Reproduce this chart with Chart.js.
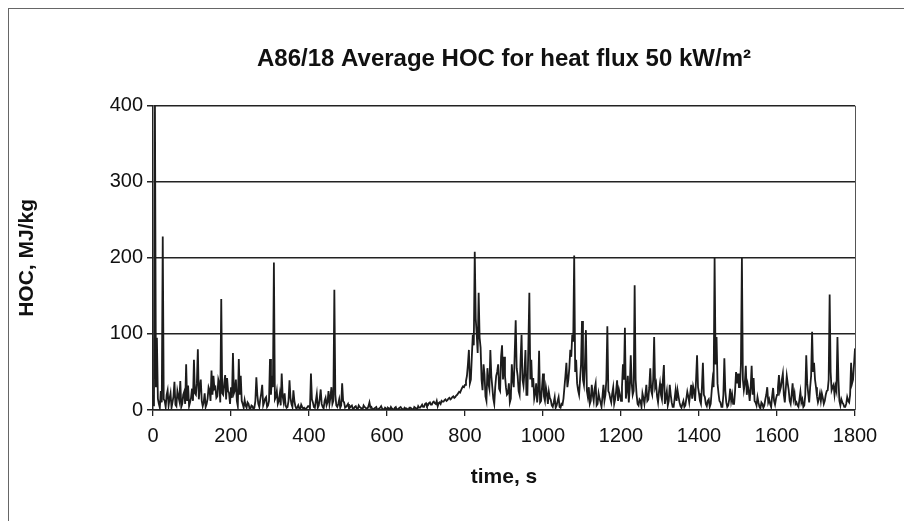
<!DOCTYPE html>
<html>
<head>
<meta charset="utf-8">
<script src="https://cdn.jsdelivr.net/npm/chart.js@4.4.1/dist/chart.umd.min.js"></script>
<style>
  html, body { margin: 0; padding: 0; background: #fff; }
  #wrap { position: relative; width: 904px; height: 521px; }
  #frame { position: absolute; left: 8px; top: 8px; width: 900px; height: 520px;
           border-left: 1px solid #666; border-top: 1px solid #666; pointer-events: none; }
</style>
</head>
<body>
<div id="wrap">
  <canvas id="hoc" width="904" height="521"></canvas>
  <div id="frame"></div>
</div>
<script>
// HOC readings on the 5 s marks, 0..1800 s
const step = 5;
const hoc = [
  20,400,95,8,25,228,12,20,6,22,10,37,5,18,38,8,24,60,32,10,
  28,66,20,80,30,12,10,4,15,26,52,45,30,18,35,146,20,46,42,22,
  30,75,26,12,67,45,8,13,3,8,2,5,3,43,8,14,33,10,17,6,
  67,45,194,17,8,21,48,10,6,4,39,8,26,5,3,2,7,2,1,3,
  5,48,10,3,21,6,27,4,12,6,25,17,8,158,6,8,3,35,10,4,
  8,3,6,2,5,1,4,2,6,3,2,10,4,1,3,0,2,5,1,3,
  0,2,4,1,3,0,2,4,1,3,2,0,3,1,4,2,5,3,7,4,
  9,6,10,7,11,8,5,10,12,11,14,13,16,15,18,17,20,24,26,31,
  33,45,79,40,99,208,100,154,82,26,47,12,35,79,30,8,45,60,25,85,
  70,30,22,10,60,30,118,45,20,99,32,79,20,154,66,42,22,10,78,12,
  48,12,22,24,13,4,17,6,17,3,7,30,62,40,79,99,203,66,26,40,
  117,33,105,17,8,33,12,35,8,15,4,33,20,110,22,10,30,14,39,26,
  12,60,108,26,10,72,20,164,20,6,12,22,8,33,14,55,20,96,35,10,
  35,14,59,17,6,33,10,4,26,26,10,3,12,6,24,10,33,31,12,72,
  22,8,62,17,5,14,8,40,200,96,22,10,4,68,10,6,28,20,8,50,
  48,30,200,26,58,33,12,58,42,10,17,4,10,3,14,30,14,4,29,7,
  20,46,30,48,10,45,26,8,35,22,10,4,24,14,6,72,22,30,103,62,
  30,10,22,22,8,20,26,152,26,33,31,96,12,14,8,4,17,10,62,40,
  81
];
// readings half way between the 5 s marks (2.5, 7.5, ... 1797.5 s)
const hocMid = [
  5,30,15,3,10,14,4,26,15,3,18,7,25,12,4,20,8,12,5,16,
  12,22,35,14,40,5,22,8,30,12,20,28,16,40,10,22,35,14,25,8,
  16,22,40,5,20,12,3,6,10,2,6,1,12,20,4,22,6,15,4,12,
  20,30,14,25,12,6,18,22,3,12,16,4,12,2,6,1,4,3,2,5,
  2,14,4,12,3,15,8,2,16,10,8,30,12,20,4,14,6,12,3,6,
  2,5,1,4,2,6,3,1,4,2,5,3,1,2,4,1,3,2,0,2,
  3,1,2,0,4,1,3,2,0,2,1,3,2,0,3,1,3,5,4,8,
  5,9,7,10,9,12,9,8,11,13,12,15,14,17,16,19,22,23,29,30,
  38,60,35,70,85,120,75,95,40,60,18,55,28,45,15,30,50,28,70,40,
  45,20,35,15,40,75,55,25,65,40,50,20,85,40,30,15,35,25,10,30,
  18,30,8,16,6,10,3,12,4,8,15,45,30,55,70,90,50,35,20,60,
  40,60,25,30,12,20,28,6,22,10,18,12,40,25,15,22,8,25,12,20,
  30,40,15,45,30,35,25,40,8,14,4,16,20,12,30,25,40,30,18,25,
  20,40,8,25,12,20,4,15,12,18,5,8,4,15,18,22,15,25,40,30,
  12,30,20,8,12,4,25,30,60,35,12,4,20,25,4,14,12,8,25,35,
  30,60,40,35,20,25,30,20,12,6,10,2,8,6,20,10,8,18,12,15,
  30,25,40,20,28,35,12,20,15,8,6,14,10,4,20,35,10,45,50,40,
  18,15,12,16,12,25,40,50,30,20,25,40,6,10,4,8,12,20,35,60
];

const xMin = 0, xMax = 1800, xStep = 200;
const yMin = 0, yMax = 400, yStep = 100;

const chartTitle = 'A86/18 Average HOC for heat flux 50 kW/m\u00B2';
const xTitle = 'time, s';
const yTitle = 'HOC, MJ/kg';

const ink = '#222';
const fontFamily = '"Liberation Sans", Arial, sans-serif';

// merge the two readings lists into one time ordered trace
const points = [];
hoc.forEach((v, i) => {
  points.push({ x: i * step, y: v });
  if (i < hocMid.length) points.push({ x: i * step + step / 2, y: hocMid[i] });
});

// right edge of the plot frame
const plotFrame = {
  id: 'plotFrame',
  afterDraw(chart) {
    const { ctx, chartArea } = chart;
    ctx.save();
    ctx.strokeStyle = '#555';
    ctx.lineWidth = 1;
    ctx.beginPath();
    ctx.moveTo(chartArea.right + 0.5, chartArea.top);
    ctx.lineTo(chartArea.right + 0.5, chartArea.bottom);
    ctx.stroke();
    ctx.restore();
  }
};

new Chart(document.getElementById('hoc'), {
  type: 'line',
  data: {
    datasets: [{
      data: points,
      borderColor: '#1c1c1c',
      borderWidth: 1.8,
      pointRadius: 0,
      tension: 0,
      fill: false
    }]
  },
  options: {
    responsive: false,
    animation: false,
    layout: { padding: { top: 0, right: 49, bottom: 0, left: 0 } },
    plugins: {
      legend: { display: false },
      tooltip: { enabled: false },
      title: {
        display: true,
        text: chartTitle,
        fullSize: false,
        color: '#111',
        font: { family: fontFamily, size: 24, weight: 'bold' },
        padding: { top: 45, bottom: 32 }
      }
    },
    scales: {
      x: {
        type: 'linear',
        min: xMin, max: xMax,
        afterFit: s => { s.height = 111; },
        ticks: { stepSize: xStep, color: '#111', padding: 8, maxRotation: 0,
                 font: { family: fontFamily, size: 20 },
                 callback: v => String(v) },
        grid: { drawOnChartArea: false, drawTicks: true, tickLength: 6, color: ink, lineWidth: 1.3 },
        border: { color: ink, width: 1.5 },
        title: { display: true, text: xTitle, color: '#111',
                 font: { family: fontFamily, size: 21, weight: 'bold' },
                 padding: { top: 0, bottom: 31 } }
      },
      y: {
        min: yMin, max: yMax,
        afterFit: s => { s.width = 153; },
        ticks: { stepSize: yStep, color: '#111', padding: 4,
                 font: { family: fontFamily, size: 20 },
                 callback: v => String(v) },
        grid: { color: ink, lineWidth: 1.5, tickLength: 6 },
        border: { color: ink, width: 1.5 },
        title: { display: true, text: yTitle, color: '#111',
                 font: { family: fontFamily, size: 21, weight: 'bold' },
                 padding: { top: 15, bottom: 0 } }
      }
    }
  },
  plugins: [plotFrame]
});
</script>
</body>
</html>
